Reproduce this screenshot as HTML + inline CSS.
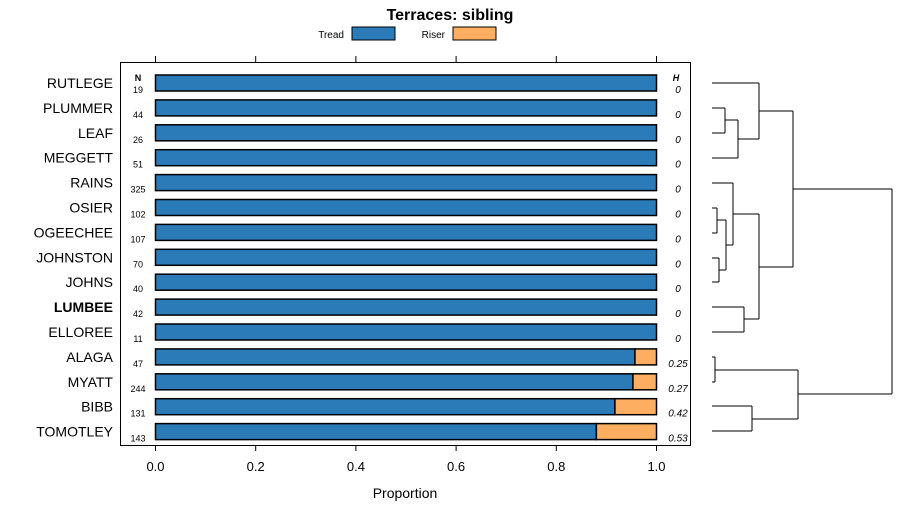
<!DOCTYPE html>
<html><head><meta charset="utf-8"><style>
body{margin:0;background:#fff}
svg{font-family:"Liberation Sans",sans-serif}
</style></head><body>
<svg id="c" width="900" height="520">
<text x="450" y="20" text-anchor="middle" font-size="16" font-weight="bold">Terraces: sibling</text>
<g>
<text x="344" y="38" text-anchor="end" font-size="10">Tread</text>
<rect x="352" y="27" width="43" height="13" fill="#2b7bb9" stroke="#000"/>
<text x="445" y="38" text-anchor="end" font-size="10">Riser</text>
<rect x="453" y="27" width="43" height="13" fill="#fdae61" stroke="#000"/>
</g>
<rect x="120.5" y="62.5" width="570" height="383" fill="none" stroke="#000"/>
<text x="138" y="81" text-anchor="middle" font-size="9" font-weight="bold">N</text>
<text x="676" y="81" text-anchor="middle" font-size="9" font-weight="bold" font-style="italic">H</text>
<text x="405" y="498" text-anchor="middle" font-size="14">Proportion</text>
<g id="marks"></g>
</svg>
<script>
const categories=["RUTLEGE","PLUMMER","LEAF","MEGGETT","RAINS","OSIER","OGEECHEE","JOHNSTON","JOHNS","LUMBEE","ELLOREE","ALAGA","MYATT","BIBB","TOMOTLEY"];
const treadValues=[1,1,1,1,1,1,1,1,1,1,1,0.957,0.953,0.917,0.88];
const nValues=[19,44,26,51,325,102,107,70,40,42,11,47,244,131,143];
const hLabels=["0","0","0","0","0","0","0","0","0","0","0","0.25","0.27","0.42","0.53"];
const xTicks=[0,0.2,0.4,0.6,0.8,1.0];
const xTickLabels=["0.0","0.2","0.4","0.6","0.8","1.0"];
const NS="http://www.w3.org/2000/svg";
const g=document.getElementById("marks");
const xs=v=>155.5+v*501;
const ys=i=>83+i*24.9;
function mk(t,a,txt){const e=document.createElementNS(NS,t);for(const k in a)e.setAttribute(k,a[k]);if(txt!=null)e.textContent=txt;g.appendChild(e);return e;}
xTicks.forEach((v,i)=>{
 let e=mk("line",{x1:xs(v),x2:xs(v),y1:445,y2:451,stroke:"#000"});
 
 
 e=mk("line",{x1:xs(v),x2:xs(v),y1:56,y2:62,stroke:"#000"});
 
 
 e=mk("text",{x:xs(v),y:471,"text-anchor":"middle","font-size":13},xTickLabels[i]);
 
 
});
categories.forEach((c,i)=>{
 const y=ys(i);
 let e=mk("text",{x:113,y:y+5,"text-anchor":"end","font-size":14,"font-weight":c==="LUMBEE"?"bold":"normal"},c);
 
 
 e=mk("rect",{x:xs(0),y:y-8,width:xs(treadValues[i])-xs(0),height:16,fill:"#2b7bb9",stroke:"#000","stroke-width":1.5});
 
 
 if(treadValues[i]<1){
  e=mk("rect",{x:xs(treadValues[i]),y:y-8,width:xs(1)-xs(treadValues[i]),height:16,fill:"#fdae61",stroke:"#000","stroke-width":1.5});
  
  
 }
 e=mk("text",{x:138,y:y+10,"text-anchor":"middle","font-size":9},String(nValues[i]));
 
 
 e=mk("text",{x:678,y:y+10,"text-anchor":"middle","font-size":10,"font-style":"italic"},hLabels[i]);
 
 
});
// dendrogram (structure from picture)
const dendroSegs=[[712,108,725,108],[712,133,725,133],[725,108,725,133],[725,120,738,120],[712,158,738,158],[738,120,738,158],[738,139,759,139],[712,83,759,83],[759,83,759,139],[759,111,793,111],
[712,208,717,208],[712,233,717,233],[717,208,717,233],[712,258,719,258],[712,282,719,282],[719,258,719,282],[717,220,726,220],[719,270,726,270],[726,220,726,270],[726,245,733,245],[712,183,733,183],[733,183,733,245],[733,214,759,214],
[712,307,744,307],[712,332,744,332],[744,307,744,332],[744,319,759,319],[759,214,759,319],[759,267,793,267],[793,111,793,267],[793,189,892,189],
[712,357,715,357],[712,382,715,382],[715,357,715,382],[715,370,798,370],[712,406,752,406],[712,431,752,431],[752,406,752,431],[752,419,798,419],[798,370,798,419],[798,394,892,394],[892,189,892,394]];
dendroSegs.forEach(s=>{
 const e=mk("line",{x1:s[0],y1:s[1],x2:s[2],y2:s[3],stroke:"#000","stroke-width":1});
 
 
});
</script>
</body></html>
